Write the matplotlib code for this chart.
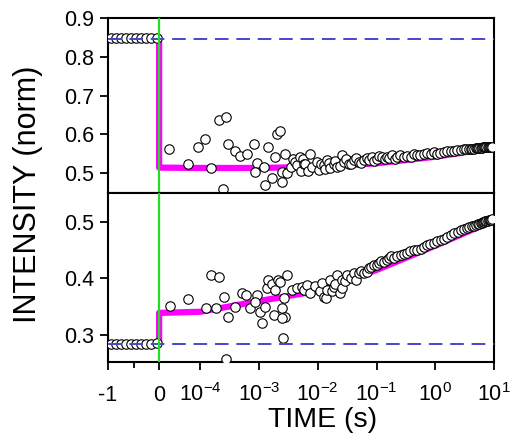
import numpy as np
import matplotlib
matplotlib.use('Agg')
import matplotlib.pyplot as plt
from matplotlib.ticker import FixedLocator, FixedFormatter

plt.rcParams['font.family'] = ['Liberation Sans', 'DejaVu Sans']
plt.rcParams['mathtext.fontset'] = 'custom'
plt.rcParams['mathtext.rm'] = 'Liberation Sans'
plt.rcParams['mathtext.it'] = 'Liberation Sans:italic'
plt.rcParams['mathtext.bf'] = 'Liberation Sans:bold'
plt.rcParams['axes.unicode_minus'] = False

# ---- data ----
# points before the flash (linear time, s)
pre_t = [-0.95, -0.85, -0.75, -0.65, -0.55, -0.45, -0.35, -0.25, -0.15, -0.04]
pre_top = [0.848, 0.848, 0.848, 0.849, 0.848, 0.848, 0.849, 0.848, 0.848, 0.849]
pre_bot = [0.284, 0.284, 0.284, 0.284, 0.284, 0.284, 0.284, 0.284, 0.284, 0.285]

# points after the flash, log10(time / s)
top_logt = [-4.53, -4.21, -4.04, -3.92, -3.81, -3.68, -3.56, -3.61, -3.52, -3.40,
            -3.32, -3.21, -3.09, -3.03, -3.06, -2.92, -2.84, -2.89, -2.78, -2.72,
            -2.69, -2.64, -2.61, -2.55, -2.52, -2.61, -2.45, -2.42, -2.38, -2.35,
            -2.30, -2.28, -2.25, -2.24, -2.21, -2.16, -2.13, -2.10, -2.01, -1.98,
            -1.95, -1.90, -1.87, -1.84, -1.81, -1.79, -1.73, -1.70, -1.67, -1.62,
            -1.59, -1.56, -1.52, -1.47, -1.43, -1.39, -1.35, -1.30, -1.26, -1.22,
            -1.17, -1.13, -1.08, -1.04, -0.99, -0.95, -0.90, -0.86, -0.82, -0.78,
            -0.73, -0.69, -0.65, -0.60, -0.54, -0.48, -0.42, -0.36, -0.31, -0.26,
            -0.20, -0.14, -0.08, -0.02, 0.03, 0.08, 0.14, 0.20, 0.26, 0.32,
            0.37, 0.43, 0.49, 0.53, 0.57, 0.60, 0.63, 0.66, 0.69, 0.71,
            0.73, 0.75, 0.77, 0.79, 0.81, 0.83, 0.85, 0.87, 0.89, 0.91,
            0.93, 0.95, 0.97]
top_val = [0.561, 0.523, 0.567, 0.587, 0.512, 0.636, 0.645, 0.458, 0.574, 0.557,
           0.543, 0.550, 0.574, 0.525, 0.503, 0.516, 0.567, 0.468, 0.486, 0.542,
           0.602, 0.608, 0.503, 0.550, 0.499, 0.477, 0.515, 0.535, 0.529, 0.520,
           0.542, 0.505, 0.537, 0.524, 0.524, 0.505, 0.550, 0.516, 0.529, 0.507,
           0.522, 0.520, 0.510, 0.533, 0.527, 0.512, 0.524, 0.531, 0.516, 0.518,
           0.546, 0.529, 0.535, 0.524, 0.522, 0.533, 0.538, 0.529, 0.525, 0.533,
           0.540, 0.533, 0.542, 0.530, 0.537, 0.545, 0.542, 0.536, 0.542, 0.540,
           0.546, 0.537, 0.542, 0.546, 0.542, 0.544, 0.542, 0.549, 0.546, 0.546,
           0.549, 0.551, 0.550, 0.553, 0.550, 0.552, 0.555, 0.556, 0.557, 0.557,
           0.559, 0.560, 0.561, 0.561, 0.562, 0.562, 0.563, 0.563, 0.564, 0.564,
           0.564, 0.565, 0.565, 0.565, 0.566, 0.566, 0.566, 0.566, 0.567, 0.567,
           0.567, 0.567, 0.568]

bot_logt = [-4.52, -4.20, -3.90, -3.81, -3.68, -3.73, -3.60, -3.53, -3.56, -3.40,
            -3.29, -3.22, -3.15, -3.03, -3.06, -2.95, -2.98, -2.89, -2.86, -2.84,
            -2.78, -2.75, -2.72, -2.67, -2.64, -2.61, -2.58, -2.55, -2.59, -2.52,
            -2.61, -2.44, -2.35, -2.27, -2.24, -2.18, -2.13, -2.04, -1.96, -1.93,
            -1.90, -1.86, -1.84, -1.76, -1.79, -1.72, -1.67, -1.70, -1.62, -1.59,
            -1.59, -1.54, -1.50, -1.44, -1.39, -1.35, -1.30, -1.26, -1.22, -1.17,
            -1.13, -1.09, -1.05, -1.00, -0.96, -0.92, -0.88, -0.83, -0.79, -0.75,
            -0.71, -0.65, -0.59, -0.54, -0.48, -0.43, -0.37, -0.31, -0.25, -0.20,
            -0.14, -0.09, -0.03, 0.03, 0.09, 0.15, 0.20, 0.26, 0.32, 0.38,
            0.43, 0.49, 0.54, 0.58, 0.62, 0.66, 0.69, 0.72, 0.75, 0.77,
            0.79, 0.81, 0.83, 0.85, 0.87, 0.89, 0.91, 0.93, 0.95, 0.97]
bot_val = [0.352, 0.363, 0.347, 0.407, 0.402, 0.347, 0.367, 0.332, 0.257, 0.350,
           0.375, 0.371, 0.347, 0.371, 0.359, 0.321, 0.341, 0.350, 0.383, 0.397,
           0.391, 0.335, 0.380, 0.397, 0.394, 0.347, 0.365, 0.332, 0.295, 0.406,
           0.330, 0.380, 0.383, 0.385, 0.380, 0.389, 0.374, 0.386, 0.377, 0.392,
           0.368, 0.365, 0.380, 0.377, 0.397, 0.385, 0.406, 0.391, 0.375, 0.397,
           0.383, 0.395, 0.406, 0.400, 0.409, 0.398, 0.409, 0.414, 0.409, 0.412,
           0.418, 0.420, 0.424, 0.424, 0.428, 0.431, 0.430, 0.432, 0.436, 0.440,
           0.436, 0.440, 0.442, 0.444, 0.445, 0.449, 0.450, 0.451, 0.453, 0.456,
           0.459, 0.461, 0.463, 0.466, 0.468, 0.470, 0.474, 0.477, 0.480, 0.482,
           0.485, 0.487, 0.489, 0.491, 0.492, 0.493, 0.495, 0.496, 0.497, 0.498,
           0.499, 0.500, 0.500, 0.501, 0.502, 0.502, 0.503, 0.503, 0.504, 0.505]

# fitted curves (magenta)
fit_t = [-1, 0, 0, 2e-5, 1e-4, 1e-3, 1e-2, 1e-1, 1, 10]
fit_top = [0.847, 0.847, 0.514, 0.514, 0.513, 0.513, 0.516, 0.525, 0.542, 0.565]
fit_bot = [0.284, 0.284, 0.339, 0.339, 0.341, 0.360, 0.378, 0.415, 0.458, 0.503]

base_top = 0.847
base_bot = 0.284

xticks = [-1, 0, 1e-4, 1e-3, 1e-2, 1e-1, 1, 10]
xlabels = ['-1', '0', '$10^{-4}$', '$10^{-3}$', '$10^{-2}$', '$10^{-1}$', '$10^{0}$', '$10^{1}$']


# linear from -1 to 0, then log10 starting at 0 ~ 2e-5 s
def fwd(t):
    t = np.asarray(t, dtype=float)
    lg = np.log10(np.maximum(t, 1e-30)) + 4
    return np.where(t > 0, np.maximum(lg, -0.698), -0.698 + 0.869 * t)


def inv(u):
    u = np.asarray(u, dtype=float)
    return np.where(u > -0.698, 10 ** (u - 4), (u + 0.698) / 0.869)


fig = plt.figure(figsize=(5.12, 4.41), dpi=100)
ax1 = fig.add_axes([0.211, 0.562, 0.754, 0.397])
ax2 = fig.add_axes([0.211, 0.179, 0.754, 0.383])

panels = [
    (ax1, pre_top, top_logt, top_val, fit_top, base_top, (0.448, 0.9), [0.5, 0.6, 0.7, 0.8, 0.9]),
    (ax2, pre_bot, bot_logt, bot_val, fit_bot, base_bot, (0.252, 0.551), [0.3, 0.4, 0.5]),
]

for ax, pre, lt, vals, fit, base, ylim, yt in panels:
    ax.set_xscale('function', functions=(fwd, inv))
    ax.plot(fit_t, fit, color='#ff00ff', lw=4.5, solid_capstyle='butt', zorder=2)
    ax.plot(pre_t + [10 ** v for v in lt], list(pre) + list(vals), 'o', ms=6.8,
            mfc='white', mec='black', mew=0.8, zorder=3)
    ax.axhline(base, color='#4646cc', lw=1.4, dashes=(7, 4), zorder=4)
    ax.axvline(0, color='#22dd22', lw=1.6, zorder=5)
    ax.set_xlim(-1, 10)
    ax.set_ylim(*ylim)
    ax.set_yticks(yt)
    ax.set_yticklabels([f'{v:.1f}' for v in yt])
    for s in ax.spines.values():
        s.set_linewidth(1.5)
    ax.tick_params(axis='y', direction='out', length=6, width=1.3, labelsize=15.5, pad=4)

ax1.tick_params(axis='x', which='both', bottom=False, labelbottom=False)
ax2.xaxis.set_major_locator(FixedLocator(xticks))
ax2.xaxis.set_major_formatter(FixedFormatter(xlabels))
ax2.xaxis.set_minor_locator(FixedLocator([-0.5]))
ax2.xaxis.set_minor_formatter(FixedFormatter(['']))
ax2.tick_params(axis='x', which='major', direction='out', length=6, width=1.3, labelsize=15.5, pad=22)
ax2.tick_params(axis='x', which='minor', direction='out', length=4, width=1.3)
plt.setp(ax2.get_xticklabels(), va='baseline')

fig.text(0.055, 0.56, 'INTENSITY (norm)', rotation=90, ha='center', va='center', fontsize=22)
fig.text(0.63, 0.048, 'TIME (s)', ha='center', va='center', fontsize=20.5)

fig.savefig('out.png', dpi=100)
